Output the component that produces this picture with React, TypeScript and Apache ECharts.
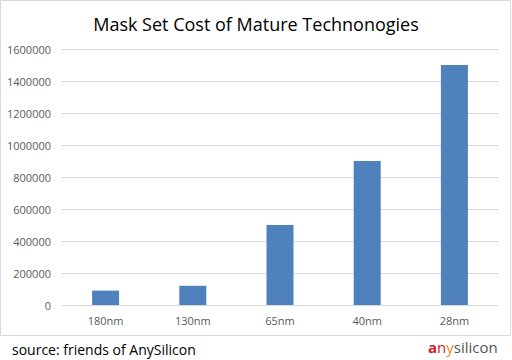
import React, { useEffect, useRef } from "react";
import * as echarts from "echarts";

const categories = ["180nm", "130nm", "65nm", "40nm", "28nm"];
const costs = [90000, 120000, 500000, 900000, 1500000];

export default function App() {
  const ref = useRef<HTMLDivElement>(null);
  useEffect(() => {
    const chart = echarts.init(ref.current!, null, { renderer: "svg" });
    const font = "'Open Sans', 'Noto Sans', sans-serif";
    chart.setOption({
      animation: false,
      backgroundColor: "#ffffff",
      title: {
        text: "Mask Set Cost of Mature Technonogies",
        left: "center",
        top: 10,
        textStyle: { fontFamily: font, fontSize: 18, fontWeight: "normal", color: "#000000" },
      },
      grid: { left: 62, right: 14, top: 49, bottom: 55 },
      xAxis: {
        type: "category",
        data: categories,
        axisLine: { lineStyle: { color: "#d9d9d9" } },
        axisTick: { show: false },
        axisLabel: { color: "#595959", fontSize: 11, fontFamily: font, margin: 10 },
      },
      yAxis: {
        type: "value",
        min: 0,
        max: 1600000,
        interval: 200000,
        axisLine: { show: false },
        axisTick: { show: false },
        splitLine: { lineStyle: { color: "#d9d9d9" } },
        axisLabel: {
          color: "#595959",
          fontSize: 11,
          fontFamily: font,
          margin: 11,
          formatter: (v: number) => String(v),
        },
      },
      series: [
        {
          type: "bar",
          data: costs,
          barWidth: 27,
          itemStyle: { color: "#4f81bd" },
        },
      ],
      graphic: [
        {
          type: "rect",
          shape: { x: 0.5, y: 0.5, width: 510, height: 335 },
          style: { fill: "none", stroke: "#d9d9d9", lineWidth: 1 },
          silent: true,
        },
        {
          type: "text",
          x: 12,
          y: 349,
          style: {
            text: "source: friends of AnySilicon",
            fontFamily: font,
            fontSize: 14,
            fill: "#000000",
            verticalAlign: "middle",
          },
        },
        {
          type: "text",
          x: 428,
          y: 347,
          style: {
            text: "{a|a}{n|n}{y|y}{s|silicon}",
            verticalAlign: "middle",
            rich: {
              a: { fill: "#d0202a", fontSize: 15, fontFamily: font, fontWeight: "bold" },
              n: { fill: "#d0202a", fontSize: 15, fontFamily: font },
              y: { fill: "#e88a2e", fontSize: 15, fontFamily: font },
              s: { fill: "#555555", fontSize: 15, fontFamily: font },
            },
          },
        },
      ],
    });
    return () => chart.dispose();
  }, []);
  return (
    <div
      ref={ref}
      style={{ width: 512, height: 360, position: "absolute", left: 0, top: 0 }}
    />
  );
}
